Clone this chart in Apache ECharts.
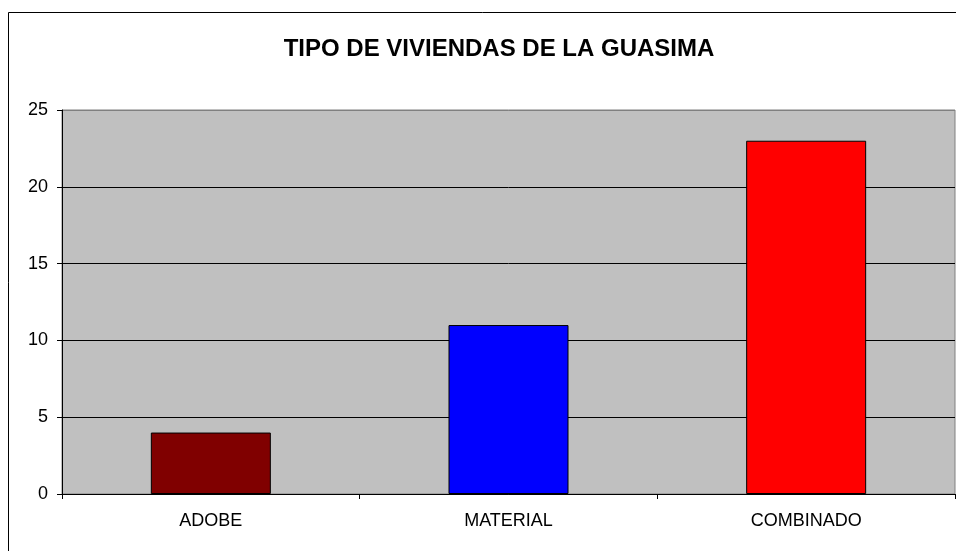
<!DOCTYPE html>
<html><head><meta charset="utf-8">
<script src="https://cdn.jsdelivr.net/npm/echarts@6/dist/echarts.min.js"></script>
<style>html,body{margin:0;padding:0;background:#fff}#c{width:956px;height:551px}</style>
</head><body><div id="c"></div>
<script>
const titleText = 'TIPO DE VIVIENDAS DE LA GUASIMA';
const categories = ['ADOBE', 'MATERIAL', 'COMBINADO'];
const values = [4, 11, 23];
const barColors = ['#800000', '#0000FF', '#FF0000'];
const yTicks = [0, 5, 10, 15, 20, 25];

const chart = echarts.init(document.getElementById('c'), null, {renderer: 'canvas'});
chart.setOption({
  animation: false,
  backgroundColor: '#fff',
  title: {
    text: titleText, left: 494, top: 32, textAlign: 'center',
    textStyle: {fontFamily: 'Liberation Sans', fontWeight: 'bold', fontSize: 24, color: '#000'}
  },
  graphic: [{
    type: 'rect', shape: {x: 8.5, y: 12.5, width: 1000, height: 600},
    style: {fill: 'none', stroke: '#000', lineWidth: 1}, silent: true
  }],
  grid: {left: 62, right: 1, top: 110, bottom: 57, show: true, backgroundColor: '#C0C0C0', borderColor: '#808080', borderWidth: 1},
  xAxis: {
    type: 'category', data: categories,
    axisLine: {lineStyle: {color: '#000'}},
    axisTick: {show: true, length: 5, lineStyle: {color: '#000'}},
    axisLabel: {fontFamily: 'Liberation Sans', fontSize: 18, color: '#000', margin: 18}
  },
  yAxis: {
    type: 'value', min: 0, max: 25, interval: 5,
    axisLine: {show: true, lineStyle: {color: '#000'}},
    axisTick: {show: true, length: 5, lineStyle: {color: '#000'}},
    axisLabel: {fontFamily: 'Liberation Sans', fontSize: 18, color: '#000', margin: 14,
      formatter: v => yTicks.includes(v) ? String(v) : ''},
    splitLine: {show: true, lineStyle: {color: ['#000', '#000', '#000', '#000', '#000', '#808080'], width: 1}}
  },
  series: [{
    type: 'bar', barWidth: 120,
    data: values.map((v, i) => ({value: v, itemStyle: {color: barColors[i]}})),
    itemStyle: {borderColor: '#000', borderWidth: 1}
  }]
});
</script></body></html>
